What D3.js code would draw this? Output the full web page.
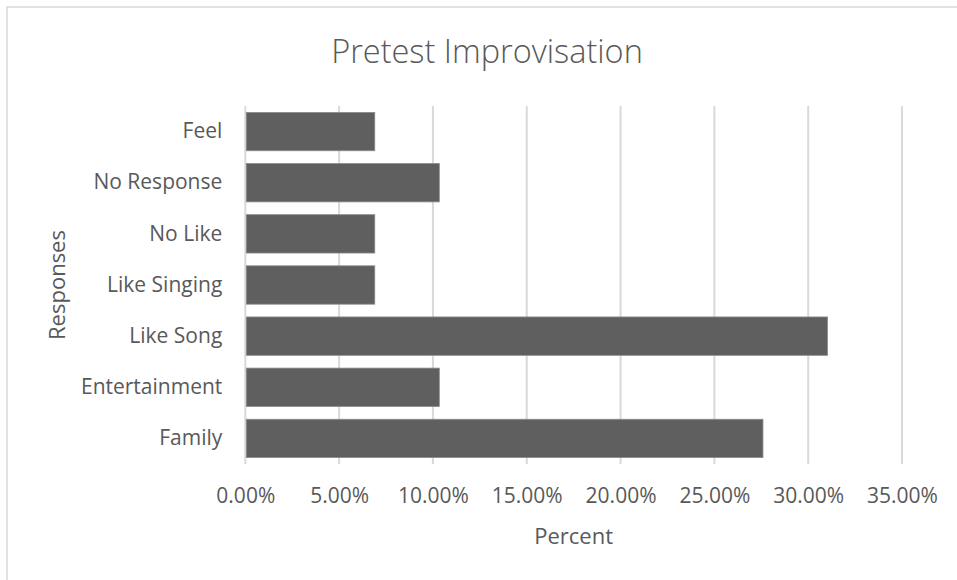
<!DOCTYPE html>
<html>
<head>
<meta charset="utf-8">
<script src="https://cdn.jsdelivr.net/npm/d3@7"></script>
<style>
  html, body { margin: 0; padding: 0; background: #ffffff; }
  svg { display: block; font-family: "Open Sans", sans-serif; }
</style>
</head>
<body>
<svg id="chart" width="957" height="580"></svg>
<script>
// Response categories, top to bottom
const categories = ["Feel", "No Response", "No Like", "Like Singing", "Like Song", "Entertainment", "Family"];
// Share of responses (percent)
const percents = [6.90, 10.34, 6.90, 6.90, 31.03, 10.34, 27.59];
// Axis ticks (percent)
const tickValues = [0, 5, 10, 15, 20, 25, 30, 35];

const chartTitle = "Pretest Improvisation";
const xTitle = "Percent";
const yTitle = "Responses";

const svg = d3.select("#chart");
const textColor = "#595959";
const gridColor = "#d9d9d9";
const barColor = "#5f5f5f";

const plot = { left: 245.3, right: 902, top: 106, bottom: 464 };

// Outer frame
svg.append("rect")
  .attr("x", 7).attr("y", 7)
  .attr("width", 980).attr("height", 600)
  .attr("fill", "none").attr("stroke", gridColor).attr("stroke-width", 1.5);

const x = d3.scaleLinear().domain([0, 35]).range([plot.left, plot.right]);
const y = d3.scaleBand().domain(categories)
  .range([plot.top, plot.bottom])
  .paddingInner(0.25).paddingOuter(0.125);

// Vertical gridlines
svg.append("g")
  .selectAll("line")
  .data(tickValues)
  .join("line")
  .attr("x1", d => x(d)).attr("x2", d => x(d))
  .attr("y1", plot.top).attr("y2", plot.bottom)
  .attr("stroke", gridColor).attr("stroke-width", 2);

// Bars
svg.append("g")
  .selectAll("rect")
  .data(categories.map((c, i) => ({ c, v: percents[i] })))
  .join("rect")
  .attr("x", x(0) + 1)
  .attr("y", d => y(d.c))
  .attr("width", d => x(d.v) - x(0) - 1)
  .attr("height", y.bandwidth())
  .attr("fill", barColor)
  .attr("stroke", "#8a8a8a").attr("stroke-width", 0.8);

// X axis labels
const xAxis = d3.axisBottom(x)
  .tickValues(tickValues)
  .tickFormat(d => d.toFixed(2) + "%")
  .tickSize(0).tickPadding(0);
const gx = svg.append("g")
  .attr("transform", `translate(0,${plot.bottom})`)
  .call(xAxis);
gx.select(".domain").remove();
gx.selectAll("text")
  .attr("y", 39).attr("dy", null)
  .attr("fill", textColor)
  .style("font-size", "21px")
  .style("font-family", "'Open Sans', sans-serif");

// Y axis labels
const yAxis = d3.axisLeft(y).tickSize(0).tickPadding(23);
const gy = svg.append("g")
  .attr("transform", `translate(${plot.left},0)`)
  .call(yAxis);
gy.select(".domain").remove();
gy.selectAll("text")
  .attr("fill", textColor)
  .style("font-size", "21px")
  .style("font-family", "'Open Sans', sans-serif");

// Titles
svg.append("text")
  .attr("x", 487).attr("y", 63)
  .attr("text-anchor", "middle")
  .attr("fill", textColor)
  .style("font-size", "32.5px")
  .style("font-weight", 300)
  .text(chartTitle);

svg.append("text")
  .attr("x", (plot.left + plot.right) / 2).attr("y", 544)
  .attr("text-anchor", "middle")
  .attr("fill", textColor)
  .style("font-size", "22px")
  .text(xTitle);

svg.append("text")
  .attr("transform", `translate(65,${(plot.top + plot.bottom) / 2}) rotate(-90)`)
  .attr("text-anchor", "middle")
  .attr("fill", textColor)
  .style("font-size", "22px")
  .text(yTitle);
</script>
</body>
</html>
